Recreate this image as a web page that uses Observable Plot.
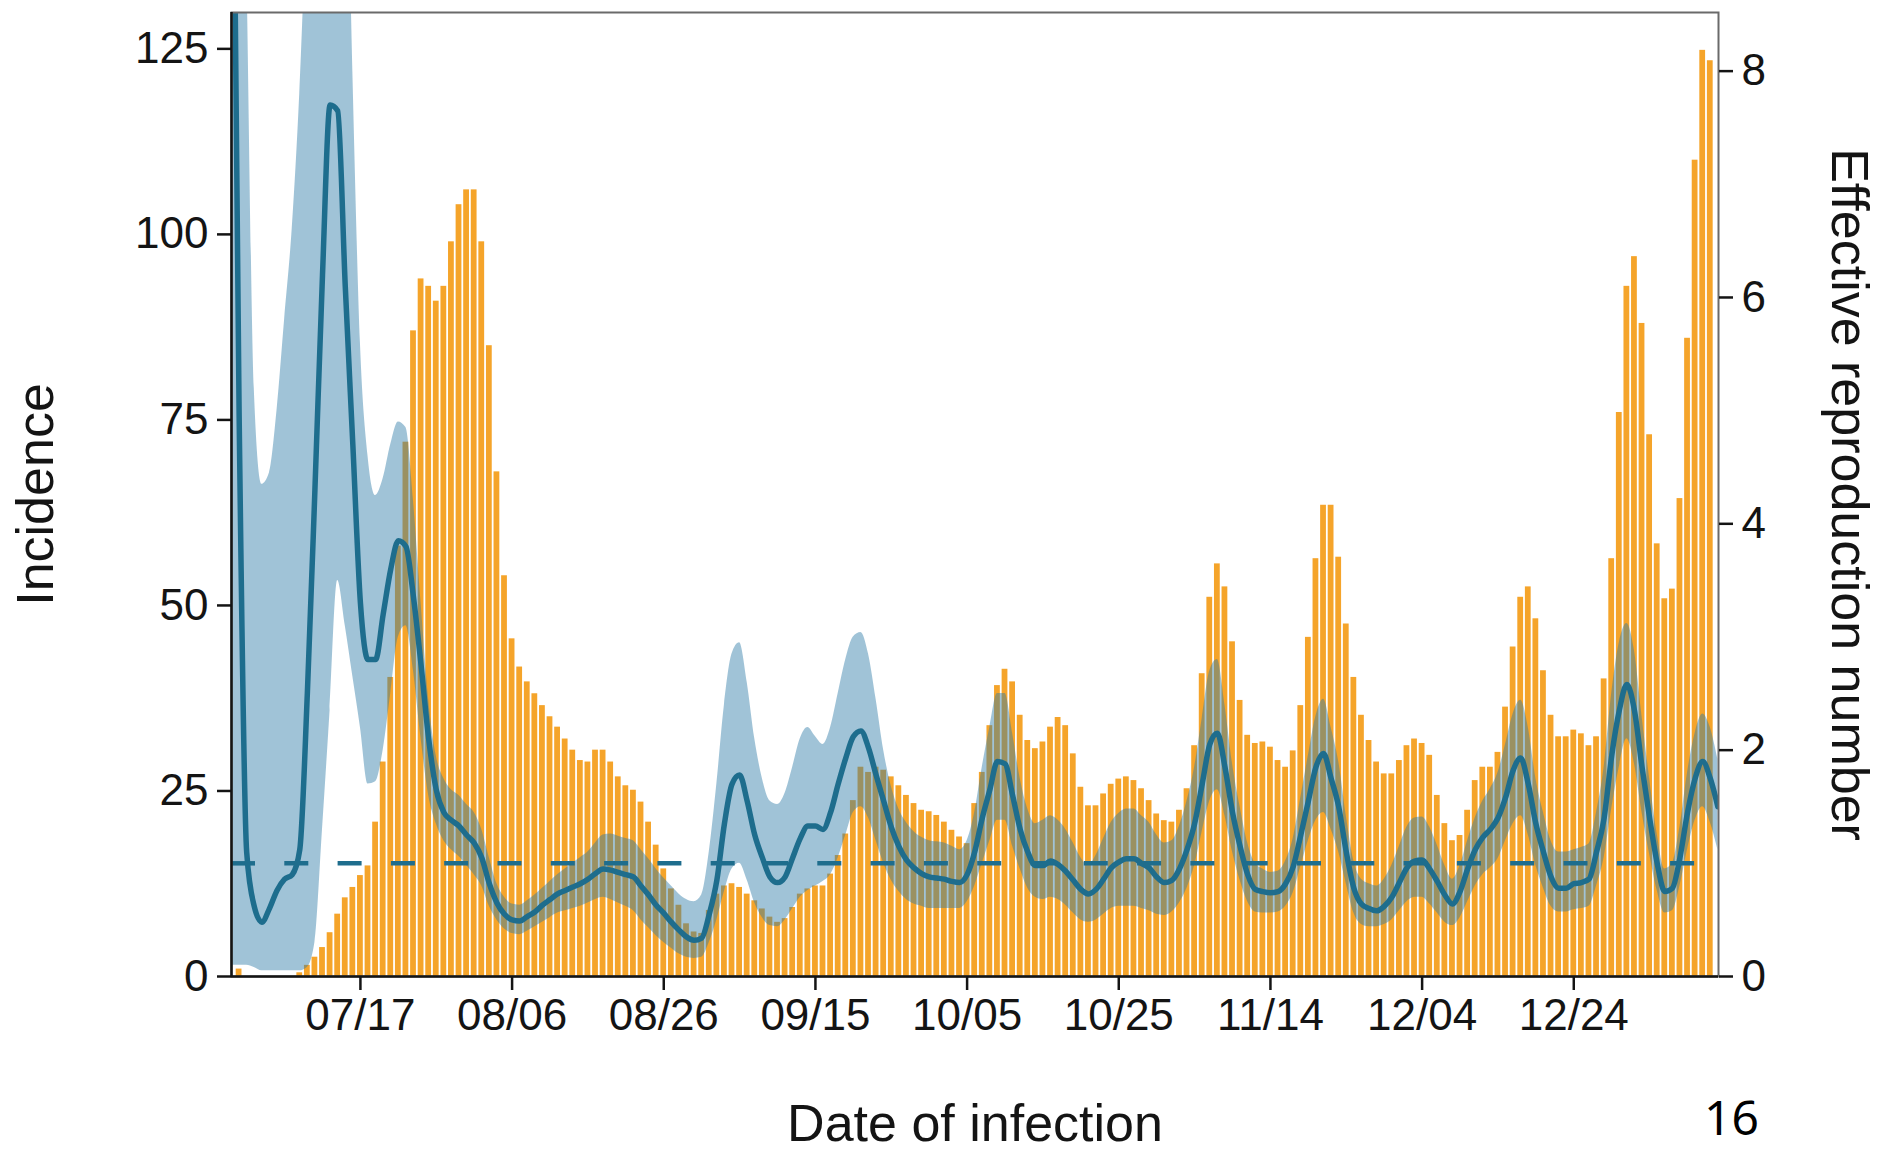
<!DOCTYPE html>
<html><head><meta charset="utf-8">
<script src="https://cdn.jsdelivr.net/npm/d3@7"></script>
<script src="https://cdn.jsdelivr.net/npm/@observablehq/plot@0.6"></script>
<style>
html,body{margin:0;padding:0;background:#fff;}
#chart{width:1880px;height:1153px;overflow:hidden;}
</style></head><body><div id="chart"></div>
<script>
// first day of the series (06/30); one value per day
const startDate = "2020-06-30";

// daily incidence (bars), 06/30 .. 01/11
const incidence = [
  0,1,0,0,0,0,0,0,0,0.5,1.5,2.6,3.9,5.9,8.4,10.6,12,
  13.6,14.9,20.8,28.9,40.3,58,72,87,94,93,
  91,93,99,104,106,106,99,85,68,54,
  45.5,41.7,39.7,38.1,36.5,35,33.6,32,30.5,29.1,
  28.9,30.5,30.5,28.9,26.9,25.7,25.1,23.5,20.8,17.7,
  14.5,11.8,9.6,7.1,6,5.8,8.9,11.1,12.2,12.5,
  12,11.1,10.2,9.1,8,7.3,7.8,9.3,11.1,11.8,
  12.2,12.2,13.8,16.3,19.2,23.7,28.2,27.5,28.2,27.8,
  26.9,25.7,24.4,23.3,22.4,22.2,21.7,20.8,19.7,18.8,
  17.9,
  23.3,27.5,33.8,39.2,41.4,39.7,35.2,31.8,30.7,31.6,
  33.6,34.9,33.8,30,25.5,23,23,24.6,25.9,26.6,
  26.9,26.4,25.3,23.7,21.9,21,20.8,22.4,25.3,31.1,
  40.8,51.1,55.6,52.5,45.1,37.2,32.5,31.4,31.6,30.9,
  29.1,28.2,30.4,36.5,45.7,56.3,63.5,63.5,56.5,47.5,
  40.3,35.2,31.8,28.9,27.3,27.3,29.1,31.1,32,31.4,
  29.8,24.4,20.6,18.3,19,22.4,26.4,28.2,28.2,30.2,
  36.3,44.4,51.1,52.5,48.2,41.2,35.2,32.3,32.3,33.2,
  32.7,31.1,32.3,40.1,56.3,76,93,97,88,73,
  58.3,50.9,52.2,64.4,86,110,124.8,123.4
];

// effective reproduction number: median, lower and upper bound, 06/30 .. 01/12
const rtMedian = [
  12,5.0,1.1,0.62,0.48,0.6,0.76,0.86,0.9,1.12,
  2.5,4.3,6.2,7.7,7.65,6.1,4.7,3.3,2.8,2.8,
  3.2,3.6,3.85,3.8,3.35,2.75,2.1,1.65,1.45,1.38,
  1.33,1.25,1.18,1.05,0.82,0.65,0.55,0.5,0.49,0.53,
  0.57,0.63,0.68,0.73,0.76,0.79,0.82,0.86,0.91,0.95,
  0.94,0.92,0.9,0.88,0.8,0.72,0.63,0.56,0.48,0.41,
  0.35,0.32,0.34,0.55,0.85,1.35,1.7,1.78,1.55,1.25,
  1.05,0.88,0.83,0.88,1.05,1.22,1.33,1.33,1.3,1.45,
  1.7,1.93,2.12,2.17,2.02,1.78,1.55,1.32,1.15,1.03,
  0.96,0.91,0.88,0.87,0.86,0.84,0.83,0.9,1.1,1.4,
  1.65,1.9,1.88,1.6,1.3,1.1,0.98,0.98,1.02,0.99,
  0.93,0.85,0.77,0.73,0.77,0.86,0.96,1.01,1.04,1.04,
  1.0,0.96,0.88,0.83,0.85,0.95,1.12,1.35,1.7,2.05,
  2.15,1.85,1.45,1.15,0.9,0.77,0.75,0.74,0.75,0.82,
  0.97,1.25,1.55,1.85,1.97,1.75,1.5,1.1,0.78,0.64,
  0.6,0.58,0.62,0.7,0.83,0.96,1.02,1.03,0.95,0.84,
  0.72,0.64,0.75,0.95,1.12,1.23,1.3,1.4,1.58,1.82,
  1.93,1.7,1.35,1.1,0.88,0.78,0.78,0.82,0.83,0.86,
  1.1,1.4,1.95,2.35,2.58,2.35,1.85,1.4,1.0,0.75,
  0.78,1.05,1.45,1.75,1.9,1.75,1.5
];
const rtLower = [
  0.1,0.1,0.1,0.08,0.05,0.05,0.05,0.05,0.05,0.05,
  0.08,0.3,1.3,2.35,3.5,3.1,2.65,2.2,1.7,1.72,
  2.0,2.5,3.0,3.1,2.7,2.1,1.6,1.35,1.2,1.12,
  1.06,0.98,0.9,0.8,0.62,0.5,0.42,0.38,0.37,0.4,
  0.44,0.48,0.52,0.56,0.58,0.6,0.62,0.65,0.68,0.7,
  0.68,0.65,0.62,0.58,0.5,0.43,0.36,0.3,0.25,0.2,
  0.17,0.16,0.17,0.3,0.5,0.75,0.95,1.0,0.85,0.65,
  0.52,0.45,0.44,0.5,0.6,0.7,0.76,0.8,0.84,0.9,
  1.05,1.25,1.45,1.5,1.4,1.2,1.0,0.85,0.75,0.68,
  0.64,0.62,0.6,0.6,0.6,0.6,0.6,0.66,0.8,1.0,
  1.2,1.38,1.38,1.15,0.95,0.78,0.7,0.68,0.7,0.68,
  0.63,0.56,0.5,0.48,0.5,0.55,0.6,0.62,0.62,0.62,
  0.6,0.58,0.55,0.54,0.57,0.65,0.78,0.98,1.28,1.55,
  1.65,1.42,1.1,0.85,0.66,0.57,0.56,0.56,0.57,0.62,
  0.74,0.97,1.2,1.38,1.45,1.3,1.1,0.82,0.56,0.46,
  0.44,0.44,0.46,0.5,0.58,0.66,0.7,0.7,0.64,0.56,
  0.48,0.45,0.52,0.66,0.8,0.9,0.96,1.04,1.2,1.35,
  1.42,1.25,0.98,0.78,0.62,0.57,0.57,0.59,0.6,0.62,
  0.8,1.05,1.48,1.85,2.1,1.88,1.45,1.08,0.76,0.56,
  0.58,0.8,1.12,1.38,1.5,1.36,1.12
];
const rtUpper = [
  14,12,9,5.2,4.35,4.45,5.0,5.8,6.6,7.8,
  9.5,11,12,12,12,11,8.0,5.6,4.6,4.25,
  4.4,4.7,4.9,4.85,4.2,3.3,2.45,1.95,1.75,1.65,
  1.6,1.52,1.45,1.3,1.05,0.82,0.7,0.64,0.63,0.67,
  0.72,0.78,0.84,0.9,0.95,1.0,1.05,1.1,1.18,1.25,
  1.26,1.24,1.22,1.2,1.12,1.04,0.95,0.87,0.8,0.73,
  0.68,0.66,0.72,1.1,1.7,2.4,2.85,2.95,2.6,2.1,
  1.75,1.55,1.52,1.62,1.85,2.1,2.2,2.12,2.05,2.2,
  2.5,2.8,3.0,3.04,2.85,2.45,2.0,1.68,1.48,1.36,
  1.28,1.23,1.2,1.19,1.18,1.15,1.12,1.2,1.45,1.85,
  2.2,2.5,2.5,2.15,1.75,1.48,1.35,1.38,1.42,1.38,
  1.3,1.18,1.05,0.98,1.07,1.22,1.36,1.44,1.48,1.48,
  1.42,1.36,1.25,1.18,1.2,1.33,1.55,1.85,2.28,2.7,
  2.8,2.4,1.88,1.5,1.18,1.0,0.95,0.92,0.93,1.02,
  1.22,1.58,1.95,2.3,2.45,2.2,1.9,1.42,1.02,0.86,
  0.82,0.8,0.86,0.98,1.15,1.32,1.4,1.41,1.32,1.16,
  0.98,0.86,0.98,1.2,1.4,1.55,1.66,1.8,2.05,2.32,
  2.44,2.2,1.75,1.45,1.2,1.1,1.1,1.12,1.14,1.17,
  1.45,1.85,2.5,2.95,3.12,2.88,2.3,1.75,1.26,0.95,
  1.0,1.32,1.8,2.15,2.32,2.2,1.92
];

const xTickLabels = ["07/17","08/06","08/26","09/15","10/05","10/25","11/14","12/04","12/24"];
const leftTicks = [0, 25, 50, 75, 100, 125];
const rightTicks = [0, 2, 4, 6, 8];
const rThreshold = [1];
const incidenceMax = 129.9;     // top of left axis
const rPerIncidence = 15.25;    // 1 unit of R on the right axis = 15.25 incidence units

const parse = d3.utcParse("%Y-%m-%d");
const t0 = parse(startDate);
const dayAt = i => d3.utcDay.offset(t0, i);
const bars = incidence.map((v, i) => ({date: dayAt(i), value: v}));
const rt = rtMedian.map((v, i) => ({date: dayAt(i), mid: v, lo: rtLower[i], hi: rtUpper[i]}));
const xTicks = xTickLabels.map(s => parse("2020-" + s.replace("/", "-")));
const xDomain = [t0, d3.utcHour.offset(dayAt(rtMedian.length - 1), 2)];

const lineColor = "#1e6d8d";
const ink = "#141414";
const font = "'Liberation Sans', Arial, Helvetica, sans-serif";
const tickFont = 44;
const titleFont = 52;

const chart = Plot.plot({
  width: 1880,
  height: 1153,
  marginLeft: 231,
  marginRight: 162,
  marginTop: 12,
  marginBottom: 177,
  style: {fontFamily: font, fontSize: "44px", color: ink, background: "#fff", overflow: "visible"},
  x: {type: "utc", domain: xDomain},
  y: {domain: [0, incidenceMax]},
  marks: [
    Plot.rectY(bars, {
      x1: d => d3.utcHour.offset(d.date, -12),
      x2: d => d3.utcHour.offset(d.date, 12),
      y: "value",
      fill: "#f5a42a",
      insetLeft: 0.9,
      insetRight: 0.9
    }),
    Plot.areaY(rt, {
      x: "date",
      y1: d => d.lo * rPerIncidence,
      y2: d => d.hi * rPerIncidence,
      fill: "#2c7aa7",
      fillOpacity: 0.45,
      curve: "monotone-x",
      clip: true
    }),
    Plot.ruleY(rThreshold, {
      y: r => r * rPerIncidence,
      x1: () => xDomain[0],
      x2: () => xDomain[1],
      stroke: lineColor,
      strokeWidth: 4.5,
      strokeDasharray: "24,29.3"
    }),
    Plot.line(rt, {
      x: "date",
      y: d => d.mid * rPerIncidence,
      stroke: lineColor,
      strokeWidth: 5.5,
      curve: "monotone-x",
      clip: true
    }),
    Plot.frame({stroke: "#6a6a6a", strokeWidth: 2}),
    Plot.ruleY([0], {stroke: ink, strokeWidth: 2.5}),
    Plot.ruleX([xDomain[0]], {stroke: ink, strokeWidth: 2.5}),
    Plot.axisY(leftTicks, {anchor: "left", tickSize: 14, tickPadding: 9, strokeWidth: 2.5, fontSize: tickFont, label: null}),
    Plot.axisY(rightTicks.map(r => r * rPerIncidence), {
      anchor: "right", tickSize: 14, tickPadding: 9, strokeWidth: 2.5, fontSize: tickFont, label: null,
      tickFormat: v => String(Math.round(v / rPerIncidence))
    }),
    Plot.axisX(xTicks, {anchor: "bottom", tickSize: 14, tickPadding: 8, strokeWidth: 2.5, fontSize: tickFont, label: null,
      tickFormat: d3.utcFormat("%m/%d")}),
    Plot.text(["Incidence"], {text: d => d, frameAnchor: "left", dx: -195, rotate: -90,
      textAnchor: "middle", lineAnchor: "middle", fontSize: titleFont, fill: ink}),
    Plot.text(["Effective reproduction number"], {text: d => d, frameAnchor: "right", dx: 130, rotate: 90,
      textAnchor: "middle", lineAnchor: "middle", fontSize: titleFont, fill: ink}),
    Plot.text(["Date of infection"], {text: d => d, frameAnchor: "bottom", dy: 148,
      textAnchor: "middle", lineAnchor: "middle", fontSize: titleFont, fill: ink}),
    Plot.text(["16"], {text: d => d, frameAnchor: "bottom-right", dx: 13, dy: 143,
      textAnchor: "middle", lineAnchor: "middle", fontSize: 48, fill: "#000",
      fontFamily: "'Liberation Sans Narrow', 'Noto Sans', sans-serif"})
  ]
});
document.getElementById("chart").appendChild(chart);
</script>
</body></html>
